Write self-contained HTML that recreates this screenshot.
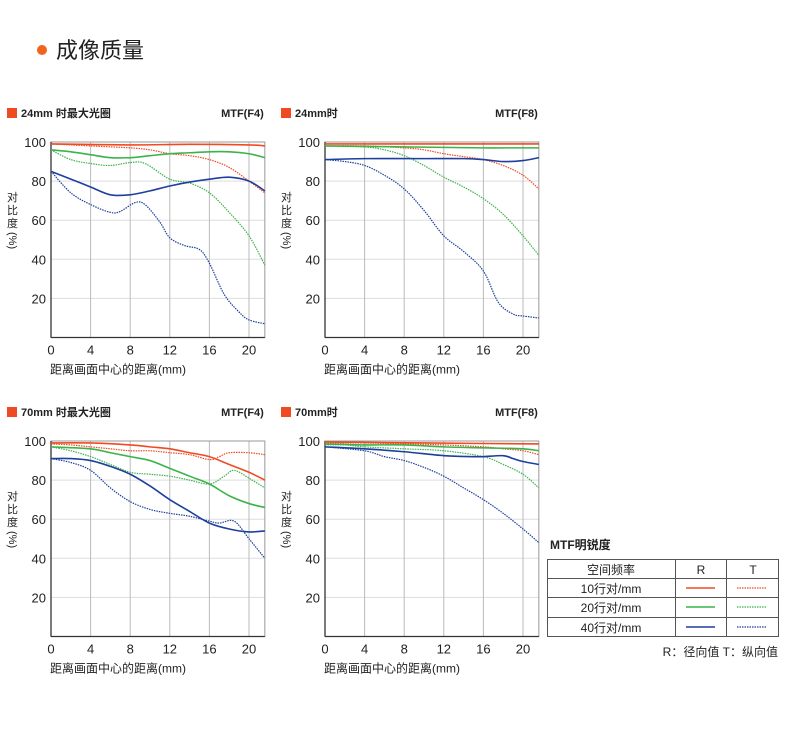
<!DOCTYPE html>
<html><head><meta charset="utf-8"><style>
body{margin:0;background:#fff;width:790px;height:728px;overflow:hidden;font-family:"Liberation Sans","Noto Sans CJK SC",sans-serif;}
</style></head><body>
<svg id="s" width="790" height="728" xmlns="http://www.w3.org/2000/svg" font-family="Liberation Sans, Noto Sans CJK SC, sans-serif">
<circle cx="42" cy="50" r="5" fill="#f0641e"/>
<text x="56" y="58" font-size="22" fill="#222">成像质量</text>
<g id="charts"></g>
<g font-size="12" fill="#222">
<text x="550" y="549" font-weight="bold" font-size="12">MTF明锐度</text>
<rect x="547.5" y="559.5" width="231" height="77" fill="none" stroke="#555"/>
<line x1="547" y1="578.5" x2="779" y2="578.5" stroke="#555"/>
<line x1="547" y1="597.5" x2="779" y2="597.5" stroke="#555"/>
<line x1="547" y1="617.5" x2="779" y2="617.5" stroke="#555"/>
<line x1="675.5" y1="559" x2="675.5" y2="637" stroke="#555"/>
<line x1="726.5" y1="559" x2="726.5" y2="637" stroke="#555"/>
<text x="611" y="574" text-anchor="middle">空间频率</text>
<text x="701" y="574" text-anchor="middle">R</text>
<text x="753" y="574" text-anchor="middle">T</text>
<text x="611" y="593" text-anchor="middle">10行对/mm</text>
<text x="611" y="612" text-anchor="middle">20行对/mm</text>
<text x="611" y="632" text-anchor="middle">40行对/mm</text>
<line x1="686" y1="588" x2="715" y2="588" stroke="#f04a23" stroke-width="1.5"/>
<line x1="737" y1="588" x2="767" y2="588" stroke="#f04a23" stroke-width="1.2" stroke-dasharray="1.5 1"/>
<line x1="686" y1="607" x2="715" y2="607" stroke="#3cb34a" stroke-width="1.5"/>
<line x1="737" y1="607" x2="767" y2="607" stroke="#3cb34a" stroke-width="1.2" stroke-dasharray="1.5 1"/>
<line x1="686" y1="627" x2="715" y2="627" stroke="#1d3f9e" stroke-width="1.5"/>
<line x1="737" y1="627" x2="767" y2="627" stroke="#1d3f9e" stroke-width="1.2" stroke-dasharray="1.5 1"/>
<text x="778" y="656" text-anchor="end">R：径向值  T：纵向值</text>
</g>
</svg>
<script>
var NS="http://www.w3.org/2000/svg",G=document.getElementById("charts");
function el(t,a,txt){var e=document.createElementNS(NS,t);for(var k in a)e.setAttribute(k,a[k]);if(txt!==undefined)e.textContent=String(txt);G.appendChild(e);return e;}
var C={r:"#f04a23",g:"#3cb34a",b:"#1d3f9e"};
function chart(x0,ty,title,mtf,d){
 var sx=9.9,sy=1.955,W=21.6*sx,H=100*sy;
 el("rect",{x:x0-44,y:ty-5,width:10,height:10,fill:"#f04a23"});
 el("text",{x:x0-30,y:ty+4,"font-size":11,"font-weight":"bold",fill:"#222"},title);
 el("text",{x:x0+W-1,y:ty+4,"font-size":11,"font-weight":"bold",fill:"#222","text-anchor":"end"},mtf);
 var top=ty+29;
 for(var v=20;v<=80;v+=20){var y=top+(100-v)*sy;el("line",{x1:x0,y1:y,x2:x0+W,y2:y,stroke:"#ddd","stroke-width":1});}
 for(var m=4;m<=20;m+=4){var x=x0+m*sx;el("line",{x1:x,y1:top,x2:x,y2:top+H,stroke:"#bbb","stroke-width":1});}
 el("rect",{x:x0,y:top,width:W,height:H,fill:"none",stroke:"#999","stroke-width":1});
 el("line",{x1:x0,y1:top,x2:x0,y2:top+H,stroke:"#333","stroke-width":1.3});
 el("line",{x1:x0,y1:top+H,x2:x0+W,y2:top+H,stroke:"#333","stroke-width":1.3});
 for(var v=20;v<=100;v+=20)el("text",{x:x0-5,y:top+(100-v)*sy+5,"font-size":13,fill:"#222","text-anchor":"end"},v);
 for(var m=0;m<=20;m+=4)el("text",{x:x0+m*sx,y:top+H+17,"font-size":13,fill:"#222","text-anchor":"middle"},m);
 el("text",{x:x0-1,y:top+H+36,"font-size":12,fill:"#222"},"距离画面中心的距离(mm)");
 var lbl=["对","比","度"];for(var i=0;i<3;i++)el("text",{x:x0-44,y:top+59+i*13,"font-size":11,fill:"#222"},lbl[i]);
 el("text",{x:0,y:0,"font-size":11,fill:"#222",transform:"translate("+(x0-42)+","+(top+90)+") rotate(90)"},"(%)");
 d.forEach(function(s){
  var p=s[2].map(function(q){return [x0+q[0]*sx,top+(100-q[1])*sy];});
  var str="M"+p[0][0]+","+p[0][1];
  for(var i=0;i<p.length-1;i++){var a=p[i-1]||p[i],b=p[i],c=p[i+1],e=p[i+2]||c;
   str+=" C"+(b[0]+(c[0]-a[0])/6)+","+(b[1]+(c[1]-a[1])/6)+" "+(c[0]-(e[0]-b[0])/6)+","+(c[1]-(e[1]-b[1])/6)+" "+c[0]+","+c[1];}
  var at={d:str,fill:"none",stroke:C[s[0]],"stroke-width":s[1]?1.2:1.6};
  if(s[1])at["stroke-dasharray"]="1.5 1";
  el("path",at);
 });
}
chart(51,113,"24mm 时最大光圈","MTF(F4)",[
["r",1,[[0,99],[4,98],[8,97],[10,96],[12,94],[14,93],[16,91],[18,87],[20,80],[21.6,74]]],
["g",1,[[0,96],[2,91],[4,89],[6,88],[8,89.5],[9.5,89],[12,81],[14,79],[16,74],[18,64],[20,52],[21.6,37]]],
["b",1,[[0,85],[2,74],[4,68],[6,64],[7,64.5],[8.5,69],[9.5,68],[11,59],[12,51],[13.5,47],[15,45],[16,38],[17.5,22],[19,13],[20,9],[21.6,7]]],
["r",0,[[0,99],[8,98.5],[14,98.8],[20,98.5],[21.6,98]]],
["g",0,[[0,96],[2,95],[4,93.5],[6,92],[8,92],[10,93],[12,94],[14,94.5],[16,95],[18,95],[20,94],[21.6,92]]],
["b",0,[[0,85],[2,81],[4,77],[6,73],[8,73],[10,75],[12,77.5],[14,79.5],[16,81],[18,82],[20,80],[21.6,75]]]
]);
chart(325,113,"24mm时","MTF(F8)",[
["r",1,[[0,98],[4,98],[8,97],[10,96],[12,94],[14,92.5],[16,91],[18,88],[20,83],[21.6,76]]],
["g",1,[[0,98],[4,97.5],[6,96],[8,93],[10,88],[12,82],[14,77],[16,71],[18,63],[20,52],[21.6,42]]],
["b",1,[[0,91],[2,90],[4,88],[6,83],[8,76],[10,65],[12,52],[14,44],[16,34],[17.5,18],[19,12],[20,11],[21.6,10]]],
["r",0,[[0,99],[10,99],[21.6,99]]],
["g",0,[[0,98],[8,97.5],[16,97],[21.6,97]]],
["b",0,[[0,91],[4,91.5],[10,91.5],[14,91.5],[16,91],[18,90],[20,90.5],[21.6,92]]]
]);
chart(51,412,"70mm 时最大光圈","MTF(F4)",[
["r",1,[[0,98.5],[2,98],[4,97],[6,96],[8,95],[10,95],[12,94],[14,93],[16,90.5],[17,92],[18,94],[20,94],[21.6,93]]],
["g",1,[[0,97],[2,95],[4,92],[6,88],[8,84],[10,83],[12,82],[14,80],[16,78],[17.5,82],[18.5,85],[20,81],[21.6,76]]],
["b",1,[[0,91],[2,89],[4,85],[6,76],[8,69],[10,65],[12,63],[14,61.5],[16,59],[17,58],[18.5,59],[20,50],[21.6,40]]],
["r",0,[[0,99],[4,99],[8,98],[10,97],[12,96],[14,94],[16,92],[18,88],[20,84],[21.6,80]]],
["g",0,[[0,97],[4,96],[6,94],[8,92],[10,90],[12,86],[14,82],[16,78],[18,72],[20,68],[21.6,66]]],
["b",0,[[0,91],[2,91],[4,90],[6,87],[8,83],[10,77],[12,70],[14,64],[16,58],[18,55],[20,53.5],[21.6,54]]]
]);
chart(325,412,"70mm时","MTF(F8)",[
["r",1,[[0,99],[4,99],[8,98.5],[12,98],[16,97],[18,96],[20,95],[21.6,93]]],
["g",1,[[0,98],[2,98],[4,97],[8,96],[12,95],[16,92],[18,88],[20,83],[21.6,76]]],
["b",1,[[0,97],[4,95],[6,92],[8,90],[10,86.5],[12,82],[14,76],[16,70],[18,63],[20,55],[21.6,48]]],
["r",0,[[0,99.5],[10,99],[21.6,98.5]]],
["g",0,[[0,98.5],[4,98],[8,98],[12,97],[16,96.5],[20,96],[21.6,95]]],
["b",0,[[0,97],[4,96],[8,94.5],[12,92.5],[15,92],[16,92],[18,92.5],[19,91],[20,89.5],[21.6,88]]]
]);
</script>
</body></html>
